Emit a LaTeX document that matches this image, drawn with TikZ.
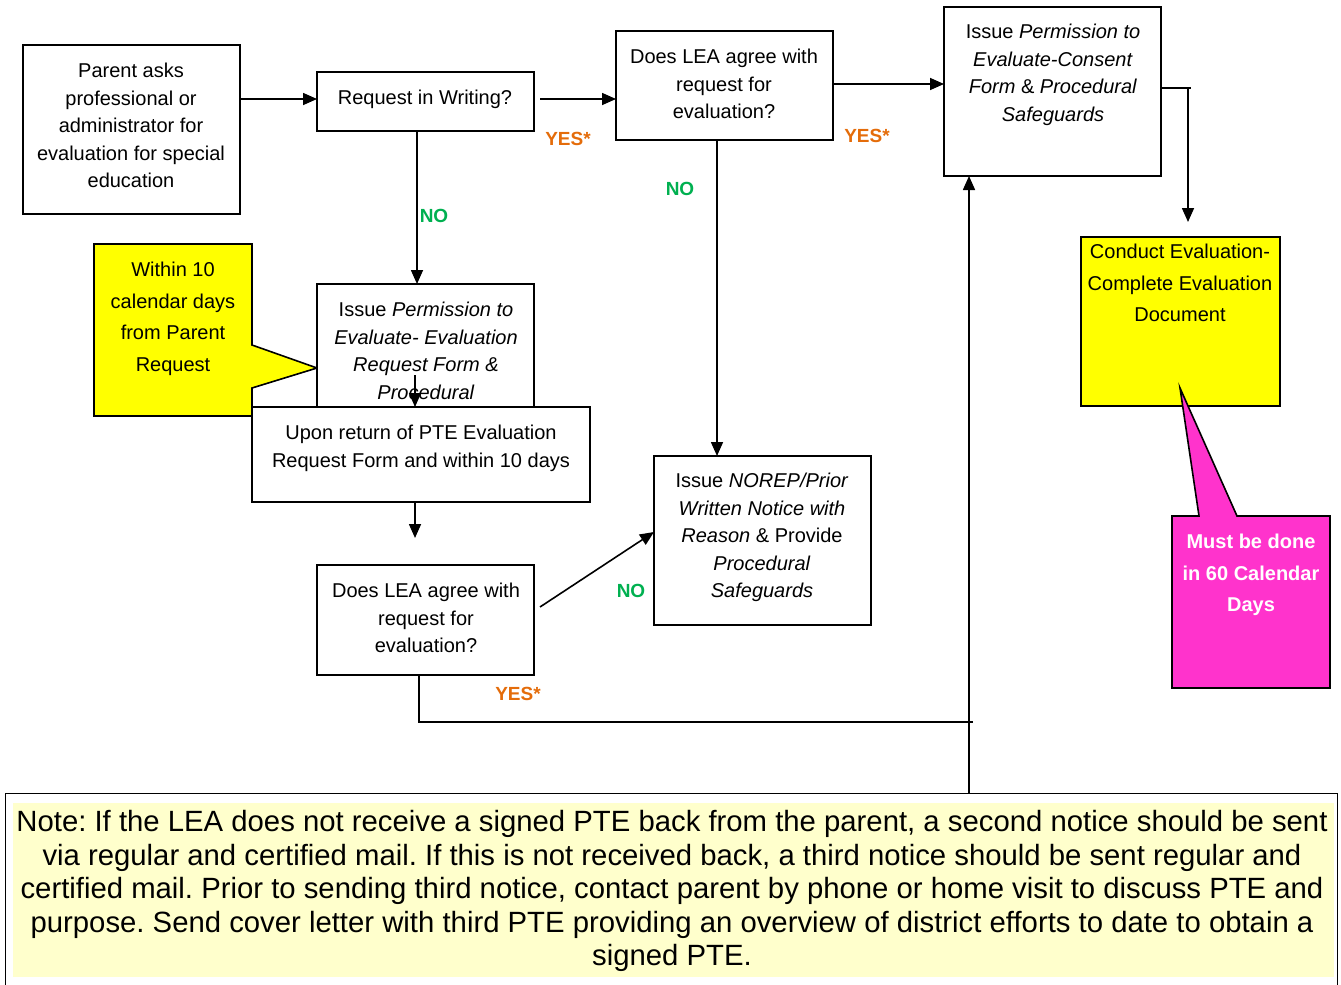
\documentclass[tikz,border=0pt]{standalone}
\usepackage{fontspec}
\setmainfont{Liberation Sans}
\usetikzlibrary{arrows.meta}
\frenchspacing

\definecolor{yesorange}{RGB}{228,108,10}
\definecolor{nogreen}{RGB}{0,176,80}
\definecolor{hiyellow}{RGB}{255,255,0}
\definecolor{hipink}{RGB}{255,51,204}
\definecolor{noteband}{RGB}{255,255,204}

\begin{document}
\begin{tikzpicture}[x=1pt,y=-1pt,
  box/.style={draw=black, line width=1.6pt, fill=white, anchor=north west,
    inner sep=0pt, outer sep=0pt},
  txt/.style={anchor=north, align=center, inner sep=0pt,
    font=\fontsize{20}{27.5}\selectfont},
  bigtxt/.style={anchor=north, align=center, inner sep=0pt,
    font=\fontsize{20}{31.5}\selectfont},
  flow/.style={line width=1.6pt, -{Triangle[length=14pt,width=12pt]}},
  wire/.style={line width=1.6pt},
  yes/.style={text=yesorange, inner sep=0pt, font=\bfseries\fontsize{19}{22}\selectfont},
  no/.style={text=nogreen, inner sep=0pt, font=\bfseries\fontsize{19}{22}\selectfont},
]
\useasboundingbox (0,0) rectangle (1341,985);

% ---------- note at the bottom ----------
\node[draw=black, line width=1.2pt, fill=white, anchor=north west, inner sep=0pt,
  minimum width=1332pt, minimum height=200pt] (note) at (5,793) {};
\fill[noteband] (13,803) rectangle (1334,977);
\node[anchor=north, align=center, inner sep=0pt,
  font=\fontsize{29.3}{33.6}\selectfont] (notetext) at (672,810)
  {Note: If the LEA does not receive a signed PTE back from the parent, a second notice should be sent\\
   via regular and certified mail. If this is not received back, a third notice should be sent regular and\\
   certified mail. Prior to sending third notice, contact parent by phone or home visit to discuss PTE and\\
   purpose. Send cover letter with third PTE providing an overview of district efforts to date to obtain a\\
   signed PTE.};

% ---------- boxes ----------
\node[box, minimum width=217pt, minimum height=169pt] (parent) at (23,45) {};
\node[txt] at (131,63) {Parent asks\\professional or\\administrator for\\evaluation for special\\education};

\node[box, minimum width=217pt, minimum height=59pt] (writing) at (317,72) {};
\node[txt] at (425,90) {Request in Writing?};

\node[box, minimum width=217pt, minimum height=109pt] (agreeA) at (616,31) {};
\node[txt] at (724,49) {Does LEA agree with\\request for\\evaluation?};

\node[box, minimum width=217pt, minimum height=169pt] (consent) at (944,7) {};
\node[txt] at (1053,24) {Issue \textit{Permission to}\\\textit{Evaluate-Consent}\\\textit{Form} \& \textit{Procedural}\\\textit{Safeguards}};

\node[box, fill=hiyellow, minimum width=199pt, minimum height=169pt] (conduct) at (1081,237) {};
\node[bigtxt] at (1180,244) {Conduct Evaluation-\\Complete Evaluation\\Document};

% pink callout pointing into the evaluation box
\draw[line width=1.6pt, fill=hipink, line join=miter]
  (1172,516) -- (1199,516) -- (1180,388) -- (1237,516) -- (1330,516)
  -- (1330,688) -- (1172,688) -- cycle;
\node[bigtxt, text=white, font=\bfseries\fontsize{20}{31.5}\selectfont] (sixty) at (1251,534)
  {Must be done\\in 60 Calendar\\Days};

% yellow callout pointing at the permission box
\draw[line width=1.6pt, fill=hiyellow, line join=miter]
  (94,244) -- (252,244) -- (252,345) -- (317,368) -- (252,388)
  -- (252,416) -- (94,416) -- cycle;
\node[bigtxt] (tendays) at (173,262) {Within 10\\calendar days\\from Parent\\Request};

\node[box, minimum width=217pt, minimum height=140pt] (permit) at (317,284) {};
\node[txt] at (426,302) {Issue \textit{Permission to}\\\textit{Evaluate- Evaluation}\\\textit{Request Form \&}\\\textit{Procedural}};

\node[box, minimum width=338pt, minimum height=95pt] (upon) at (252,407) {};
\node[txt] at (421,425) {Upon return of PTE Evaluation\\Request Form and within 10 days};

\node[box, minimum width=217pt, minimum height=110pt] (agreeB) at (317,565) {};
\node[txt] at (426,583) {Does LEA agree with\\request for\\evaluation?};

\node[box, minimum width=217pt, minimum height=169pt] (norep) at (654,456) {};
\node[txt] at (762,473) {Issue \textit{NOREP/Prior}\\\textit{Written Notice with}\\\textit{Reason} \& Provide\\\textit{Procedural}\\\textit{Safeguards}};

% ---------- connectors ----------
\draw[flow] (parent.east |- 0,99) -- (writing.west |- 0,99);
\draw[flow] ([xshift=6pt]writing.east |- 0,99) -- (agreeA.west |- 0,99);
\draw[flow] (agreeA.east |- 0,84) -- (consent.west |- 0,84);

\coordinate (turn) at (1191,88);
\draw[wire] (consent.east |- turn) -- (turn);
\draw[flow] (1188,88) -- (1188,222);

\draw[flow] (writing.south -| 417,0) -- (permit.north -| 417,0);
\draw[flow, line width=1.2pt] (415,375) -- (upon.north -| 415,0);
\draw[flow] (upon.south -| 415,0) -- (415,538);
\draw[flow] (540,607) -- (norep.west |- 0,532);
\draw[flow] (agreeA.south -| 717,0) -- (norep.north -| 717,0);

\coordinate (yesjoin) at (973,722);
\draw[wire] (agreeB.south -| 419,0) -- (419,722) -- (yesjoin);
\draw[flow] (note.north -| 969,0) -- (consent.south -| 969,0);

% ---------- answer labels ----------
\node[yes] at (568,139) {YES*};
\node[yes] at (867,136) {YES*};
\node[yes] at (518,694) {YES*};
\node[no] at (434,216) {NO};
\node[no] at (680,189) {NO};
\node[no] at (631,591) {NO};
\end{tikzpicture}
\end{document}
